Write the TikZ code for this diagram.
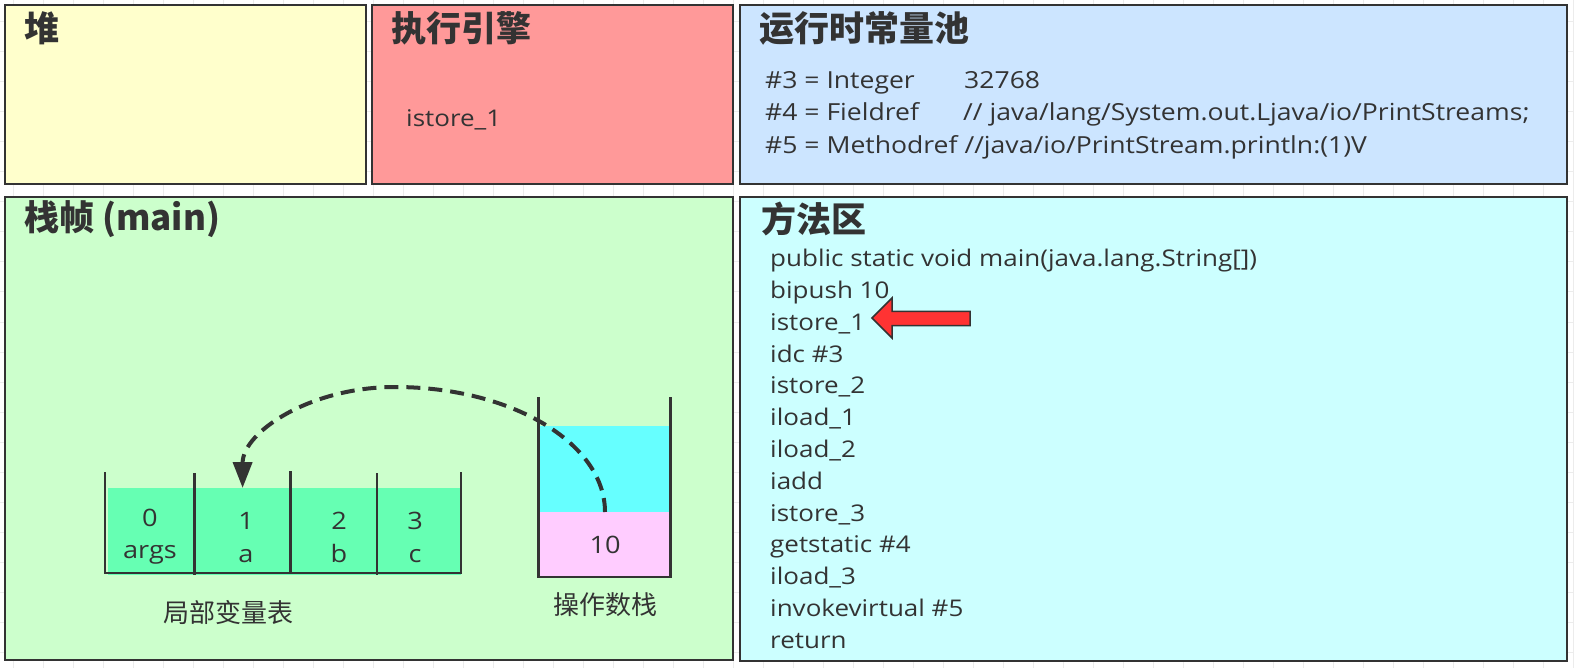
\documentclass[tikz,border=0pt]{standalone}
\usepackage{fontspec}
\setmainfont{Open Sans}[FakeStretch=1.13]
\newfontfamily\cjk{Noto Sans CJK SC}
\usetikzlibrary{arrows.meta}
\definecolor{ink}{HTML}{333333}
\definecolor{heapc}{HTML}{FFFFCC}
\definecolor{enginec}{HTML}{FF9999}
\definecolor{poolc}{HTML}{CCE5FF}
\definecolor{framec}{HTML}{CCFFCC}
\definecolor{methodc}{HTML}{CCFFFF}
\definecolor{localc}{HTML}{66FFB3}
\definecolor{opc}{HTML}{66FFFF}
\definecolor{pinkc}{HTML}{FFCCFF}
\definecolor{redc}{HTML}{FF3333}
\definecolor{gridc}{HTML}{ECECEC}
\tikzset{
  region/.style={draw=ink, line width=2pt, inner sep=0pt, outer sep=0pt},
  title/.style={anchor=west, inner sep=0pt, text=ink, font=\cjk\bfseries\fontsize{35}{38}\selectfont},
  code/.style={anchor=base west, inner sep=0pt, text=ink, font=\fontsize{23}{26}\selectfont},
  pool/.style={anchor=base west, inner sep=0pt, text=ink, font=\fontsize{23.5}{27}\selectfont},
  cellfill/.style={inner sep=0pt, outer sep=0pt, draw=none},
  celltext/.style={anchor=base, inner sep=0pt, text=ink, font=\fontsize{24}{27}\selectfont},
  label/.style={inner sep=0pt, text=ink, font=\cjk\fontsize{26}{28}\selectfont},
  wall/.style={draw=ink, line width=2.5pt},
}
\begin{document}
\begin{tikzpicture}[x=1pt,y=-1pt]
\useasboundingbox (0,0) rectangle (1574,668);
% faint grid background
\foreach \gx in {13,43,...,1573} \draw[gridc, line width=1pt] (\gx,0) -- (\gx,668);
\foreach \gy in {22,52,...,667} \draw[gridc, line width=1pt] (0,\gy) -- (1574,\gy);

% regions
\node[region, fill=heapc, minimum width=361pt, minimum height=179pt] (heap) at (185.5,94.5) {};
\node[region, fill=enginec, minimum width=361pt, minimum height=179pt] (engine) at (552.5,94.5) {};
\node[region, fill=poolc, minimum width=827pt, minimum height=179pt] (pool) at (1153.5,94.5) {};
\node[region, fill=framec, minimum width=728pt, minimum height=463pt] (frame) at (369,428.5) {};
\node[region, fill=methodc, minimum width=827pt, minimum height=464pt] (method) at (1153.5,429) {};

% titles
\node[title] (theap) at (24,28) {堆};
\node[title] (tengine) at (391,28) {执行引擎};
\node[title] (tpool) at (759,28) {运行时常量池};
\node[title] (tframe) at (24,219) {栈帧 (main)};
\node[title] (tmethod) at (761,219) {方法区};

% engine content
\node[code] (eng1) at (406,127) {istore\_1};

% pool content
\node[pool] (p1a) at (765,88.3) {\#3 = Integer};
\node[pool] (p1b) at (964,88.3) {32768};
\node[pool] (p2a) at (765,120.8) {\#4 = Fieldref};
\node[pool] (p2b) at (963,120.8) {// java/lang/System.out.Ljava/io/PrintStreams;};
\node[pool] (p3) at (765,153.3) {\#5 = Methodref //java/io/PrintStream.println:(1)V};

% method area content
\node[code] (m0) at (770,266.7) {public static void main(java.lang.String[])};
\node[code] (m1) at (770,298.5) {bipush 10};
\node[code] (m2) at (770,330.3) {istore\_1};
\node[code] (m3) at (770,362.1) {idc \#3};
\node[code] (m4) at (770,393.9) {istore\_2};
\node[code] (m5) at (770,425.7) {iload\_1};
\node[code] (m6) at (770,457.5) {iload\_2};
\node[code] (m7) at (770,489.3) {iadd};
\node[code] (m8) at (770,521.1) {istore\_3};
\node[code] (m9) at (770,552.9) {getstatic \#4};
\node[code] (m10) at (770,584.7) {iload\_3};
\node[code] (m11) at (770,616.5) {invokevirtual \#5};
\node[code] (m12) at (770,648.3) {return};

% red pointer arrow
\filldraw[fill=redc, draw=ink, line width=1.5pt, line join=miter]
  (872,318) -- (892,298) -- (892,311.5) -- (970,311.5) -- (970,325.5) -- (892,325.5) -- (892,338) -- cycle;

% local variable table
\node[cellfill, fill=localc, minimum width=87pt, minimum height=87pt] (c0) at (151,531.5) {};
\node[cellfill, fill=localc, minimum width=96pt, minimum height=87pt] (c1) at (242.6,531.5) {};
\node[cellfill, fill=localc, minimum width=86pt, minimum height=87pt] (c2) at (333.7,531.5) {};
\node[cellfill, fill=localc, minimum width=84pt, minimum height=87pt] (c3) at (418.7,531.5) {};
\draw[wall] (105,472) -- (105,573) -- (461,573) -- (461,472);
\draw[wall] (194.6,473) -- (194.6,575);
\draw[wall] (290.7,471) -- (290.7,573);
\draw[wall] (376.8,473) -- (376.8,575);
\node[celltext] (t0) at (150,526) {0};
\node[celltext] (a0) at (150,558) {args};
\node[celltext] (t1) at (246,529) {1};
\node[celltext] (a1) at (246,562) {a};
\node[celltext] (t2) at (339,529) {2};
\node[celltext] (a2) at (339,562) {b};
\node[celltext] (t3) at (415,529) {3};
\node[celltext] (a3) at (415,562) {c};
\node[label] (lvt) at (228,613) {局部变量表};

% operand stack
\node[cellfill, fill=opc, minimum width=130pt, minimum height=86pt] (opempty) at (605,469) {};
\node[cellfill, fill=pinkc, minimum width=130pt, minimum height=65pt] (optop) at (605,544.5) {};
\draw[wall] (538.5,397) -- (538.5,577) -- (670.5,577) -- (670.5,397);
\node[celltext] (v10) at (605,553) {10};
\node[label] (ops) at (605,605) {操作数栈};

% dashed move arrow
\coordinate (peak) at (395,387);
\draw[draw=ink, line width=4pt, dash pattern=on 14pt off 8pt,
      -{Triangle[length=26pt,width=19pt]}]
  (optop.north) .. controls (605,443) and (511,387) .. (peak)
  .. controls (310.5,387) and (242.6,432) .. (c1.north);
\end{tikzpicture}
\end{document}
